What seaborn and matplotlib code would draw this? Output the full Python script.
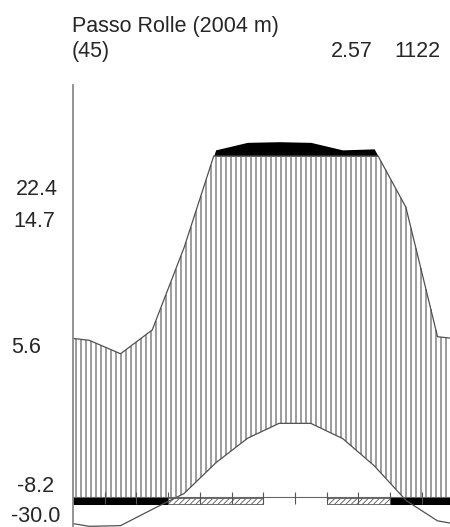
import numpy as np
import pandas as pd
import matplotlib
matplotlib.use("Agg")
import matplotlib.pyplot as plt
import seaborn as sns

# station header
STATION = "Passo Rolle (2004 m)"
YEARS = "(45)"
MEAN_TEMP = "2.57"
ANNUAL_PRECIP = "1122"

# monthly climate values
MONTHS = ["Jan", "Feb", "Mar", "Apr", "May", "Jun",
          "Jul", "Aug", "Sep", "Oct", "Nov", "Dec"]
temp = [-4.3, -4.2, -1.8, 0.5, 5.0, 8.6, 10.8, 10.8, 8.6, 4.6, -0.5, -3.5]
precip = [46, 42, 49, 73, 118, 140, 142, 140, 118, 121, 85, 47]
# 2 = certain frost (black), 1 = probable frost (hatched), 0 = none
frost = [2, 2, 2, 1, 1, 1, 0, 0, 1, 1, 2, 2]
temp_labels = ["22.4", "14.7", "5.6", "-8.2", "-30.0"]

# layout in pixels
W, H = 450, 527
X0, Y0 = 73, 497          # left axis / zero line
MX, DY = 31.7, 6.82       # px per month, px per degC
label_pos = [(16, 195), (13, 227), (11, 353), (17, 492), (11, 522)]

sns.set_style("white")
plt.rcParams["font.family"] = ["Liberation Sans", "DejaVu Sans"]
plt.rcParams["hatch.linewidth"] = 0.6

fig = plt.figure(figsize=(W / 100, H / 100), dpi=100)
ax = fig.add_axes([0, 0, 1, 1])
ax.set_xlim(-X0 / MX, (W - X0) / MX)
ax.set_ylim(-(H - Y0) / DY, Y0 / DY)


def wrap(v):
    # close the annual cycle so curves run to both edges
    v = np.asarray(v, float)
    e = (v[0] + v[-1]) / 2
    return np.concatenate([[e], v, [e]])


x = np.concatenate([[0], np.arange(12) + 0.5, [12]])
t = wrap(temp)
p = wrap(precip)
# walter-lieth: 10 degC = 20 mm, above 100 mm scale reduced 1/10
p_sc = np.where(p <= 100, p / 2, 50 + (p - 100) / 20)

xf = np.linspace(0, 12, 1201)
tf = np.interp(xf, x, t)
pf = np.interp(xf, x, p_sc)
pcap = np.minimum(pf, 50)

# humid period: vertical lines between precip and temperature
xh = np.arange(0.09, 12, 5 / MX)
th = np.maximum(np.interp(xh, x, t), 0)
ph = np.minimum(np.interp(xh, x, p_sc), 50)
m = ph > th
ax.vlines(xh[m], th[m], ph[m], color="#8c8c8c", linewidth=1.2)

# precipitation above 100 mm
ax.fill_between(xf, 50, pf, where=pf > 50, interpolate=True,
                color="black", linewidth=0)

df = pd.DataFrame({"x": xf, "temp": tf, "precip": pcap})
sns.lineplot(data=df, x="x", y="precip", ax=ax, color="#505050", linewidth=0.9)
sns.lineplot(data=df, x="x", y="temp", ax=ax, color="#505050", linewidth=0.9)

# frost bars along the zero line
mc = np.arange(12) + 0.5
fr = np.array(frost)
ax.hlines(0, 0, 12, color="#666666", linewidth=0.8)
ax.bar(mc[fr == 2], -1.1, width=1.0, bottom=0, color="black", linewidth=0)
ax.bar(mc[fr == 1], -0.85, width=1.0, bottom=-0.15, facecolor="white",
       edgecolor="#555555", hatch="//////", linewidth=0.6)
ax.vlines(np.arange(1, 12), -1.0, 0.8, color="#555555", linewidth=0.8)

# left axis line only
sns.despine(ax=ax, left=False, bottom=True)
ax.spines["left"].set_position(("data", 0))
ax.spines["left"].set_bounds(ax.get_ylim()[0], (Y0 - 85) / DY)
ax.spines["left"].set_color("#8a8a8a")
ax.spines["left"].set_linewidth(1.3)
ax.set_xticks([])
ax.set_yticks([])
ax.set_xlabel("")
ax.set_ylabel("")

fs = 15.5
col = "#262626"
fig.text(72 / W, 1 - 32 / H, STATION, fontsize=fs, color=col, va="baseline")
fig.text(72 / W, 1 - 57 / H, YEARS, fontsize=fs, color=col, va="baseline")
fig.text(373 / W, 1 - 57 / H, MEAN_TEMP, fontsize=fs, color=col,
         va="baseline", ha="right")
fig.text(394 / W, 1 - 57 / H, ANNUAL_PRECIP, fontsize=fs, color=col,
         va="baseline", ha="left")
for lab, (lx, ly) in zip(temp_labels, label_pos):
    fig.text(lx / W, 1 - ly / H, lab, fontsize=fs, color=col, va="baseline")

fig.savefig("out.png", dpi=100)
